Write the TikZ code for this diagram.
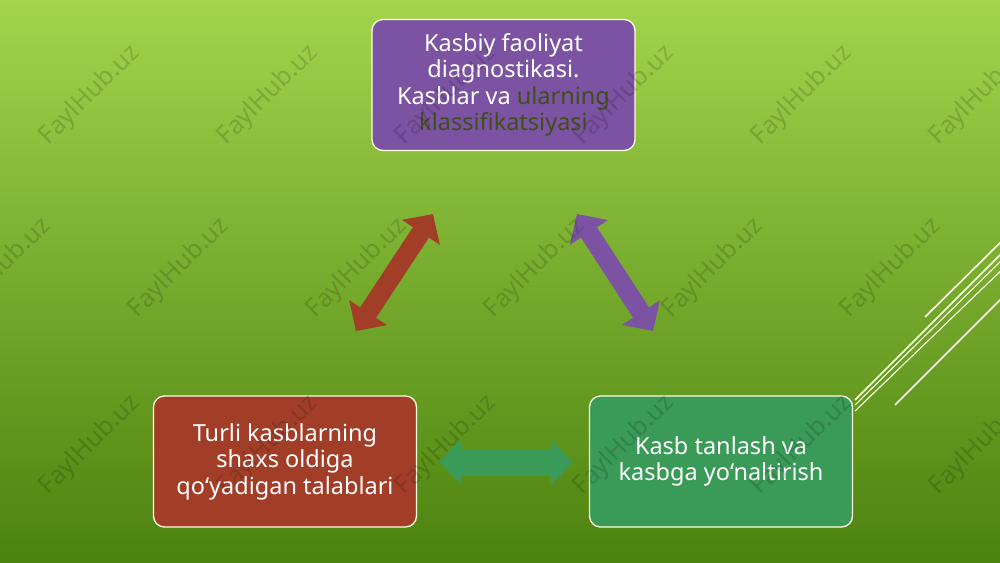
\documentclass[tikz,border=0pt]{standalone}
\usepackage{fontspec}
\setmainfont{Noto Sans}
\usetikzlibrary{arrows.meta}

\definecolor{bgtop}{HTML}{A2D44C}
\definecolor{bgmid}{HTML}{7DB32F}
\definecolor{bgbot}{HTML}{4C820F}
\definecolor{boxpurple}{HTML}{7B53A2}
\definecolor{boxred}{HTML}{A23E28}
\definecolor{boxgreen}{HTML}{3A9A58}
\definecolor{darktext}{HTML}{3F4F1C}

\tikzset{
  box/.style={draw=white!88!yellow, line width=1.3pt, rounded corners=11pt,
    minimum width=263pt, minimum height=131pt, inner sep=0pt,
    text=white, align=center, font=\fontsize{23.5}{26.5}\selectfont},
  dblarrow/.style={line width=19pt,
    {Triangle[length=22pt,width=44pt]}-{Triangle[length=22pt,width=44pt]}},
  wmark/.style={rotate=45, text=black, text opacity=0.15,
    font=\fontsize{25}{25}\selectfont},
  deco/.style={draw=white!92!yellow, line width=1.6pt}
}

\begin{document}
\begin{tikzpicture}[x=1pt, y=-1pt]
\useasboundingbox (0,0) rectangle (1000,562);
\clip (0,0) rectangle (1000,562);
 % fondo
  \shade[top color=bgtop, middle color=bgmid, bottom color=bgbot] (0,0) rectangle (1000,562);
  \draw[deco] (925,317) -- (1010,233);
  \draw[deco] (855,400) -- (1010,245);
  \draw[deco, line width=1.1pt] (855,405) -- (1010,252);
  \draw[deco, line width=1.1pt] (855,411) -- (1010,262);
  \draw[deco] (895,405) -- (1010,290);
 % nodi
  \node (diag) at (503.5, 85) [box, fill=boxpurple]
    {Kasbiy faoliyat\\diagnostikasi.\\Kasblar va \textcolor{darktext}{ularning}\\\textcolor{darktext}{klassifikatsiyasi}};
  \node (talab) at (285, 461.5) [box, fill=boxred]
    {Turli kasblarning\\shaxs oldiga\\qo‘yadigan talablari};
  \node (tanlov) at (721, 461.5) [box, fill=boxgreen]
    {Kasb tanlash va\\kasbga yo‘naltirish};
  \coordinate (r1) at (356,331);
  \coordinate (r2) at (433,214);
  \coordinate (v1) at (577,214);
  \coordinate (v2) at (653,331);
  \coordinate (g1) at (439,462);
  \coordinate (g2) at (573,462);
 % archi
  \draw[dblarrow, boxred] (r1) -- (r2);
  \draw[dblarrow, boxpurple] (v1) -- (v2);
  \draw[dblarrow, boxgreen, line width=27pt] (g1) -- (g2);
 % filigrana
  \foreach \x in {90,268,446,624,802,980} {
    \node (wa\x) at (\x, 95) [wmark] {FaylHub.uz};
    \node (wc\x) at (\x, 445) [wmark] {FaylHub.uz};
  }
  \foreach \x in {1,179,357,535,713,891} {
    \node (wb\x) at (\x, 268) [wmark] {FaylHub.uz};
  }
\end{tikzpicture}
\end{document}
